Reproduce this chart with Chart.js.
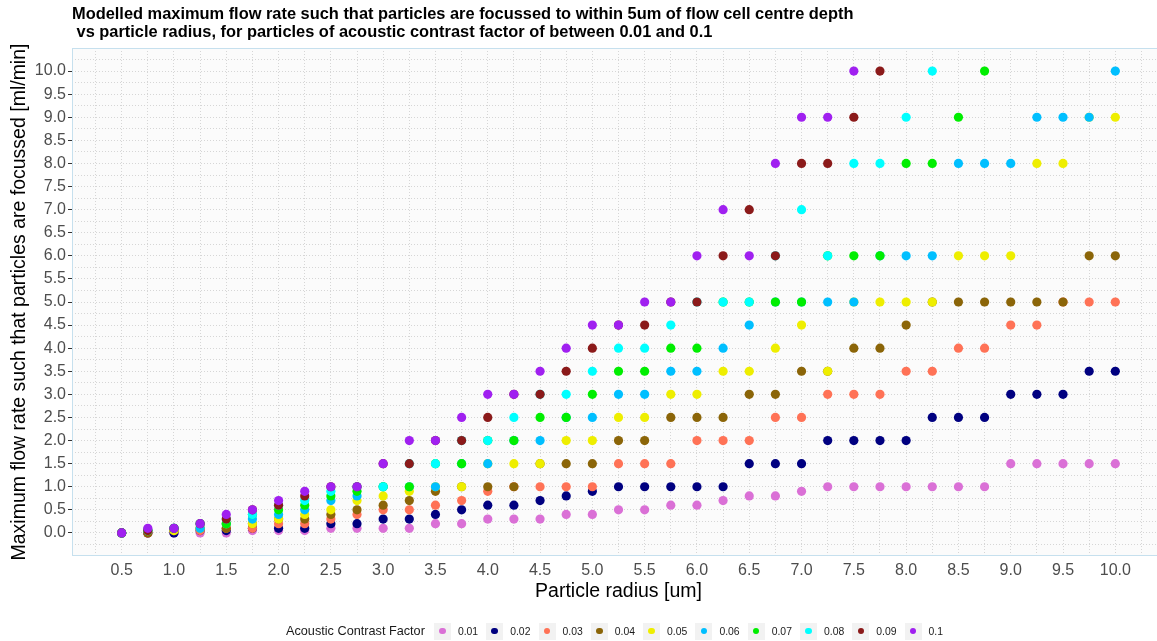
<!DOCTYPE html>
<html>
<head>
<meta charset="utf-8">
<script src="https://cdn.jsdelivr.net/npm/chart.js@4.4.1/dist/chart.umd.min.js"></script>
<style>
	body { margin: 0; background: #ffffff; overflow: hidden; }
	.wrap { position: relative; width: 1157px; height: 641px; overflow: hidden; }
	.plot-title {
		position: absolute; left: 72px; top: 5px;
		font: bold 16.4px "Liberation Sans", Arial, sans-serif;
		line-height: 17.5px; color: #000; white-space: pre;
	}
	.legend {
		position: absolute; left: 286px; top: 622px; height: 18px;
		display: flex; align-items: center;
		font-family: "Liberation Sans", Arial, sans-serif; color: #1a1a1a;
	}
	.legend-title { font-size: 12.7px; margin-right: 9px; }
	.legend-item { display: flex; align-items: center; width: 52.3px; }
	.legend-key {
		width: 17px; height: 17px; background: #f2f2f2;
		display: flex; align-items: center; justify-content: center;
	}
	.legend-dot { width: 6.5px; height: 6.5px; border-radius: 50%; }
	.legend-label { font-size: 10.4px; margin-left: 7px; }
</style>
</head>
<body>
<div class="wrap">
	<canvas id="myChart" width="1180" height="641" style="width:1180px;height:641px"></canvas>
	<div class="plot-title" id="plotTitle"></div>
	<div class="legend" id="legend"></div>
</div>
<script>
// particle radius [um]
const radius = [0.5, 0.75, 1.0, 1.25, 1.5, 1.75, 2.0, 2.25, 2.5, 2.75,
	3.0, 3.25, 3.5, 3.75, 4.0, 4.25, 4.5, 4.75, 5.0, 5.25,
	5.5, 5.75, 6.0, 6.25, 6.5, 6.75, 7.0, 7.25, 7.5, 7.75,
	8.0, 8.25, 8.5, 8.75, 9.0, 9.25, 9.5, 9.75, 10.0];

// max flow rate [ml/min] per acoustic contrast factor (null = off the chart)
const flow001 = [0, 0, 0, 0, 0, 0.05, 0.05, 0.05, 0.1, 0.1,
	0.1, 0.1, 0.2, 0.2, 0.3, 0.3, 0.3, 0.4, 0.4, 0.5,
	0.5, 0.6, 0.6, 0.7, 0.8, 0.8, 0.9, 1.0, 1.0, 1.0,
	1.0, 1.0, 1.0, 1.0, 1.5, 1.5, 1.5, 1.5, 1.5];
const flow002 = [0, 0, 0, 0.05, 0.05, 0.1, 0.1, 0.1, 0.2, 0.2,
	0.3, 0.3, 0.4, 0.5, 0.6, 0.6, 0.7, 0.8, 0.9, 1.0,
	1.0, 1.0, 1.0, 1.0, 1.5, 1.5, 1.5, 2.0, 2.0, 2.0,
	2.0, 2.5, 2.5, 2.5, 3.0, 3.0, 3.0, 3.5, 3.5];
const flow003 = [0, 0, 0.05, 0.05, 0.1, 0.1, 0.2, 0.2, 0.3, 0.4,
	0.5, 0.5, 0.6, 0.7, 0.9, 1.0, 1.0, 1.0, 1.0, 1.5,
	1.5, 1.5, 2.0, 2.0, 2.0, 2.5, 2.5, 3.0, 3.0, 3.0,
	3.5, 3.5, 4.0, 4.0, 4.5, 4.5, 5.0, 5.0, 5.0];
const flow004 = [0, 0, 0.05, 0.1, 0.1, 0.2, 0.3, 0.3, 0.4, 0.5,
	0.6, 0.7, 0.9, 1.0, 1.0, 1.0, 1.5, 1.5, 1.5, 2.0,
	2.0, 2.5, 2.5, 2.5, 3.0, 3.0, 3.5, 3.5, 4.0, 4.0,
	4.5, 5.0, 5.0, 5.0, 5.0, 5.0, 5.0, 6.0, 6.0];
const flow005 = [0, 0.05, 0.05, 0.1, 0.2, 0.2, 0.3, 0.4, 0.5, 0.7,
	0.8, 0.9, 1.0, 1.0, 1.5, 1.5, 1.5, 2.0, 2.0, 2.5,
	2.5, 3.0, 3.0, 3.5, 3.5, 4.0, 4.5, 3.5, 5.0, 5.0,
	5.0, 5.0, 6.0, 6.0, 6.0, 8.0, 8.0, 9.0, 9.0];
const flow006 = [0, 0.05, 0.1, 0.1, 0.2, 0.3, 0.4, 0.5, 0.7, 0.8,
	1.0, 1.0, 1.0, 1.5, 1.5, 2.0, 2.0, 2.5, 2.5, 3.0,
	3.0, 3.5, 3.5, 4.0, 4.5, 5.0, 5.0, 5.0, 5.0, 6.0,
	6.0, 6.0, 8.0, 8.0, 8.0, 9.0, 9.0, 9.0, 10.0];
const flow007 = [0, 0.05, 0.1, 0.2, 0.2, 0.4, 0.5, 0.6, 0.8, 0.9,
	1.0, 1.0, 1.5, 1.5, 2.0, 2.0, 2.5, 2.5, 3.0, 3.5,
	3.5, 4.0, 4.0, 5.0, 5.0, 5.0, 5.0, 6.0, 6.0, 6.0,
	8.0, 8.0, 9.0, 10.0, null, null, null, null, null];
const flow008 = [0, 0.05, 0.1, 0.2, 0.3, 0.4, 0.6, 0.7, 0.9, 1.0,
	1.0, 1.5, 1.5, 2.0, 2.0, 2.5, 3.0, 3.0, 3.5, 4.0,
	4.0, 4.5, 5.0, 5.0, 5.0, 6.0, 7.0, 6.0, 8.0, 8.0,
	9.0, 10.0, null, null, null, null, null, null, null];
const flow009 = [0, 0.05, 0.1, 0.2, 0.3, 0.5, 0.6, 0.8, 1.0, 1.0,
	1.5, 1.5, 2.0, 2.0, 2.5, 3.0, 3.0, 3.5, 4.0, 4.5,
	4.5, 5.0, 5.0, 6.0, 7.0, 6.0, 8.0, 8.0, 9.0, 10.0,
	null, null, null, null, null, null, null, null, null];
const flow010 = [0, 0.1, 0.1, 0.2, 0.4, 0.5, 0.7, 0.9, 1.0, 1.0,
	1.5, 2.0, 2.0, 2.5, 3.0, 3.0, 3.5, 4.0, 4.5, 4.5,
	5.0, 5.0, 6.0, 7.0, 6.0, 8.0, 9.0, 9.0, 10.0, null,
	null, null, null, null, null, null, null, null, null];

const contrastFactors = ["0.01", "0.02", "0.03", "0.04", "0.05", "0.06", "0.07", "0.08", "0.09", "0.1"];
const seriesValues = [flow001, flow002, flow003, flow004, flow005, flow006, flow007, flow008, flow009, flow010];
const seriesColors = ["#DA70D6", "#000080", "#FF7256", "#8B6508", "#EEEE00",
	"#00BFFF", "#00EE00", "#00FFFF", "#8B1A1A", "#A020F0"];

// axis tick labels
const xTickLabels = [0.5, 1.0, 1.5, 2.0, 2.5, 3.0, 3.5, 4.0, 4.5, 5.0,
	5.5, 6.0, 6.5, 7.0, 7.5, 8.0, 8.5, 9.0, 9.5, 10.0];
const yTickLabels = [0.0, 0.5, 1.0, 1.5, 2.0, 2.5, 3.0, 3.5, 4.0, 4.5, 5.0,
	5.5, 6.0, 6.5, 7.0, 7.5, 8.0, 8.5, 9.0, 9.5, 10.0];

const titleLines = [
	"Modelled maximum flow rate such that particles are focussed to within 5um of flow cell centre depth",
	" vs particle radius, for particles of acoustic contrast factor of between 0.01 and 0.1",
];

document.getElementById("plotTitle").textContent = titleLines.join("\n");

// LEGEND
const legend = document.getElementById("legend");
legend.innerHTML = '<span class="legend-title">Acoustic Contrast Factor</span>';
contrastFactors.forEach((name, i) => {
	const item = document.createElement("div");
	item.className = "legend-item";
	item.innerHTML = '<div class="legend-key"><div class="legend-dot" style="background:' +
		seriesColors[i] + '"></div></div><span class="legend-label">' + name + "</span>";
	legend.appendChild(item);
});
// END LEGEND

// minor grid every 0.25
const gridTicks = (from, to) => {
	const out = [];
	for (let v = from; v <= to + 1e-9; v += 0.25) out.push({ value: Math.round(v * 100) / 100 });
	return out;
};
const isMajor = (list, v) => list.some((t) => Math.abs(t - v) < 1e-6);

const panel = {
	id: "panel",
	beforeDraw(chart) {
		const { ctx, chartArea: a } = chart;
		ctx.save();
		ctx.fillStyle = "#fbfbfb";
		ctx.fillRect(a.left, a.top, a.right - a.left, a.bottom - a.top);
		ctx.restore();
	},
	beforeDatasetsDraw(chart) {
		const { ctx, chartArea: a } = chart;
		ctx.save();
		ctx.strokeStyle = "#c6e0ee";
		ctx.lineWidth = 1;
		ctx.strokeRect(a.left + 0.5, a.top + 0.5, a.right - a.left - 1, a.bottom - a.top - 1);
		ctx.restore();
	},
};

Chart.defaults.font.family = '"Liberation Sans", Arial, sans-serif';

const ctx = document.getElementById("myChart");

new Chart(ctx, {
	type: "scatter",
	data: {
		datasets: contrastFactors.map((name, i) => ({
			label: name,
			data: radius
				.map((r, j) => ({ x: r, y: seriesValues[i][j] }))
				.filter((p) => p.y !== null),
			backgroundColor: seriesColors[i],
			borderWidth: 0,
			pointRadius: 4.6,
			pointHoverRadius: 4.6,
			order: contrastFactors.length - i,
		})),
	},
	options: {
		responsive: false,
		animation: false,
		events: [],
		layout: { padding: { left: 0, right: 15, top: 48, bottom: 35 } },
		plugins: {
			legend: { display: false },
			tooltip: { enabled: false },
		},
		scales: {
			x: {
				type: "linear",
				min: 0.025,
				max: 10.475,
				afterBuildTicks: (scale) => { scale.ticks = gridTicks(0.25, 10.25); },
				afterFit: (scale) => { scale.height = 50; },
				ticks: {
					autoSkip: false,
					maxRotation: 0,
					padding: 5,
					color: "#4d4d4d",
					font: { size: 16 },
					callback: (v) => (isMajor(xTickLabels, v) ? v.toFixed(1) : ""),
				},
				grid: { color: "#d6d6d6", lineWidth: 1, drawTicks: false, borderDash: [1, 2] },
				border: { display: false, dash: [1, 2] },
				title: {
					display: true,
					text: "Particle radius [um]",
					color: "#000",
					font: { size: 19.5 },
					padding: { top: 0, bottom: 3 },
				},
			},
			y: {
				type: "linear",
				min: -0.5,
				max: 10.5,
				afterBuildTicks: (scale) => { scale.ticks = gridTicks(-0.25, 10.25); },
				afterFit: (scale) => { scale.width = 72; },
				ticks: {
					autoSkip: false,
					padding: 2,
					color: "#4d4d4d",
					font: { size: 16 },
					callback: (v) => (isMajor(yTickLabels, v) ? v.toFixed(1) : ""),
				},
				grid: {
					color: "#d6d6d6",
					lineWidth: 1,
					borderDash: [1, 2],
					tickLength: 4,
					tickBorderDash: [],
					tickColor: (c) => (c.tick && isMajor(yTickLabels, c.tick.value) ? "#333333" : "rgba(0,0,0,0)"),
				},
				border: { display: false, dash: [1, 2] },
				title: {
					display: true,
					text: "Maximum flow rate such that particles are focussed [ml/min]",
					color: "#000",
					font: { size: 19.5 },
					padding: { top: 8, bottom: 0 },
				},
			},
		},
	},
	plugins: [panel],
});
</script>
</body>
</html>
